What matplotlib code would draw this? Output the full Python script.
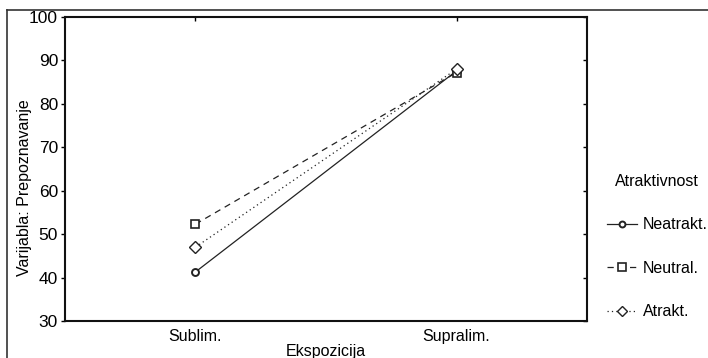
import matplotlib
matplotlib.use('Agg')
import matplotlib.pyplot as plt
from matplotlib.lines import Line2D

plt.rcParams['font.family'] = ['Liberation Sans', 'DejaVu Sans']

categories = ['Sublim.', 'Supralim.']
neatrakt = [41.3, 87.6]
neutral = [52.3, 87.2]
atrakt = [47.0, 88.0]
series_names = ['Neatrakt.', 'Neutral.', 'Atrakt.']
yticks = [30, 40, 50, 60, 70, 80, 90, 100]

fig = plt.figure(figsize=(7.08, 3.58), dpi=100)
ax = fig.add_axes([0.0918, 0.1034, 0.7373, 0.8491])

x = list(range(len(categories)))
col = '#222222'
ax.plot(x, neatrakt, color=col, lw=0.9, ls='-', marker='o', ms=5, mfc='white',
        mec=col, mew=1.4, label=series_names[0])
ax.plot(x, neutral, color=col, lw=0.9, ls=(0, (5, 4)), marker='s', ms=6, mfc='white',
        mec=col, mew=1.2, label=series_names[1])
ax.plot(x, atrakt, color=col, lw=0.9, ls=(0, (1, 2.5)), marker='D', ms=6, mfc='white',
        mec=col, mew=1.0, label=series_names[2])

ax.set_xlim(-0.5, 1.5)
ax.set_ylim(30, 100)
ax.set_xticks(x)
ax.set_xticklabels(categories, fontsize=11.5)
ax.set_yticks(yticks)
ax.tick_params(axis='y', labelsize=12.5, direction='out', length=3, width=1, right=True, pad=2)
ax.tick_params(axis='x', direction='in', length=3, width=1, top=True, bottom=False, pad=6)
for s in ax.spines.values():
    s.set_linewidth(1.5)
    s.set_color('#111111')

ax.set_ylabel('Varijabla: Prepoznavanje', fontsize=11.5)
ax.yaxis.set_label_coords(-0.064, 0.4375)
ax.set_xlabel('Ekspozicija', fontsize=11.5)
ax.xaxis.set_label_coords(0.5, -0.075)

# right axis ticks point inward
for t in ax.yaxis.get_major_ticks():
    t.tick2line.set_marker(matplotlib.markers.TICKLEFT)

leg = ax.legend(loc='center left', bbox_to_anchor=(1.011, 0.245), frameon=False,
                title='Atraktivnost', fontsize=11.5, title_fontsize=11.5,
                handlelength=1.85, handletextpad=0.37, labelspacing=1.78,
                markerscale=0.85)
leg._legend_box.align = 'center'

# outer frame
fig.add_artist(Line2D([7/708, 7/708], [0, 1 - 10/358], color='#333333', lw=1.2,
                      transform=fig.transFigure))
fig.add_artist(Line2D([7/708, 1], [1 - 10/358, 1 - 10/358], color='#333333', lw=1.2,
                      transform=fig.transFigure))

fig.savefig('out.png', dpi=100)
